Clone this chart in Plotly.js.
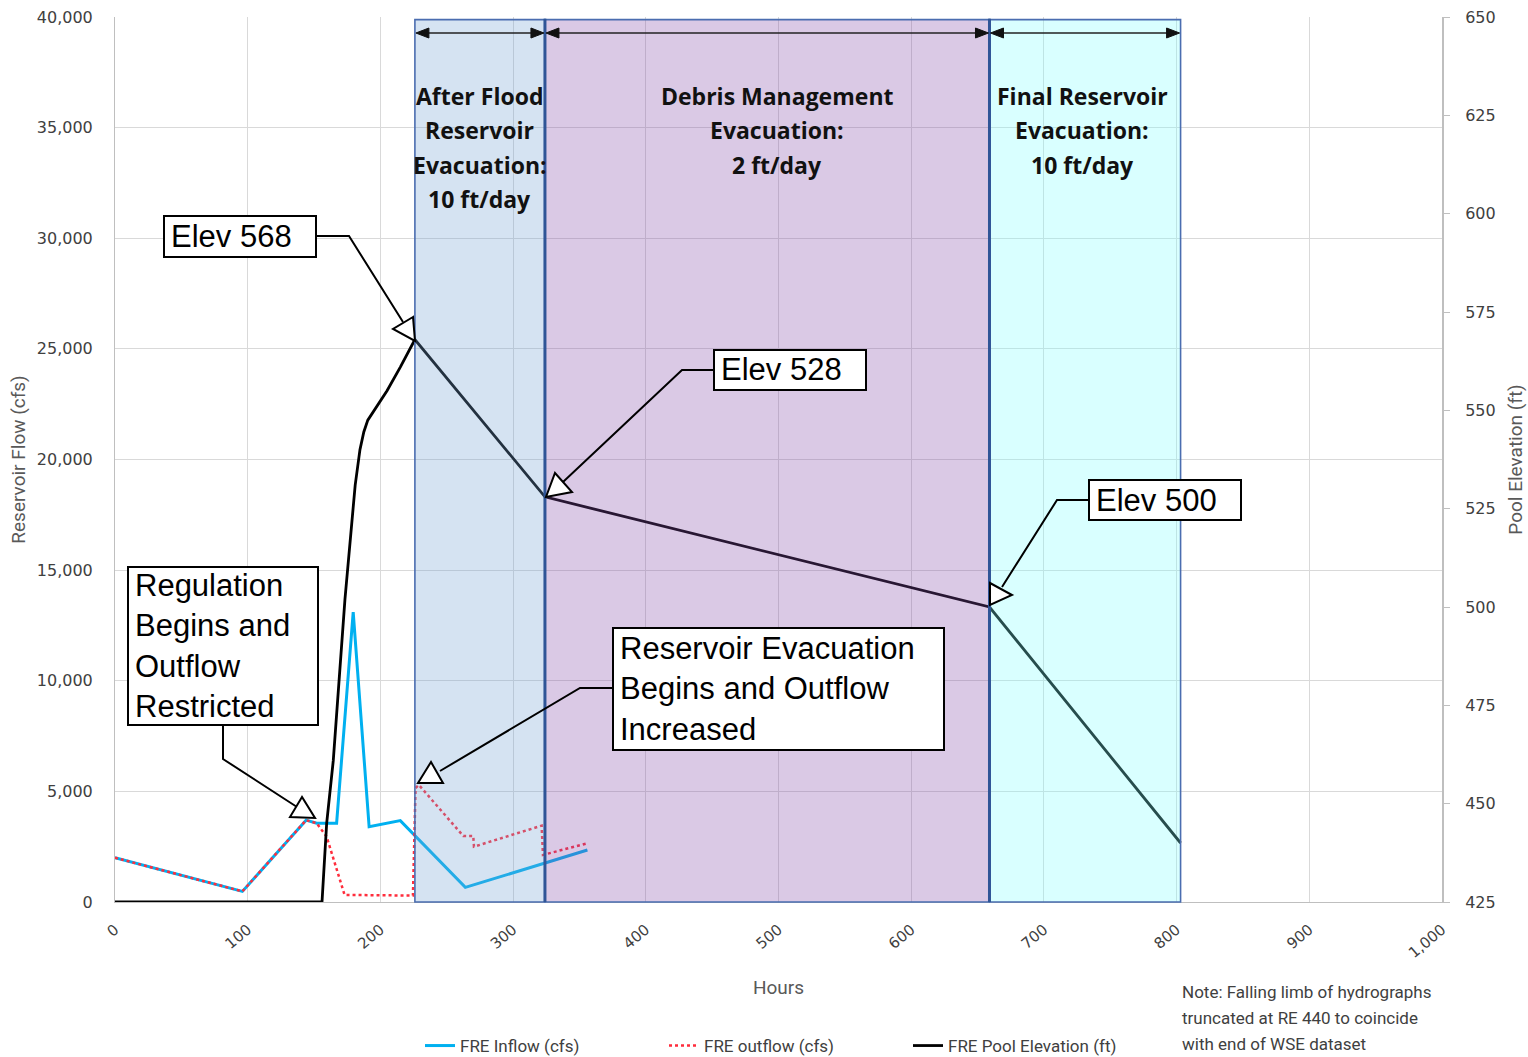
<!DOCTYPE html>
<html><head><meta charset="utf-8">
<script src="https://cdn.plot.ly/plotly-3.0.1.min.js"></script>
<style>html,body{margin:0;padding:0;background:#fff}#chart{width:1528px;height:1057px}</style>
</head><body><div id="chart"></div>
<script>
// ---------- DATA ----------
const inflowHours = [0, 96, 144, 152, 167, 179.5, 191.5, 215, 264, 356];
const inflowCfs   = [2000, 480, 3700, 3560, 3560, 13100, 3400, 3680, 660, 2350];

const outflowHours = [0, 96, 144, 152, 159.5, 173, 224.5, 226.5, 229, 262.5, 270, 270.5, 321.5, 322.5, 356];
const outflowCfs   = [2000, 480, 3700, 3560, 2950, 320, 290, 5150, 5290, 2980, 2980, 2500, 3450, 2130, 2650];

const poolHours = [0, 156, 159.5, 164.5, 173.3, 177.5, 181, 184.6, 187.5, 190.5, 197, 205, 215, 226, 324, 659, 803];
const poolElev  = [425, 425, 445, 461, 502, 517, 531, 540, 544.5, 547.5, 551, 555, 561, 568, 528, 500, 440];

const phaseStart = [226, 324, 659];
const phaseEnd   = [324, 659, 803];
const phaseLabels = [
  ["After Flood", "Reservoir", "Evacuation:", "10 ft/day"],
  ["Debris Management", "Evacuation:", "2 ft/day"],
  ["Final Reservoir", "Evacuation:", "10 ft/day"]
];

const seriesNames = ["FRE Inflow (cfs)", "FRE outflow (cfs)", "FRE Pool Elevation (ft)"];
const noteLines = ["Note: Falling limb of hydrographs", "truncated at RE 440 to coincide", "with end of WSE dataset"];

// ---------- STYLE / LAYOUT HELPERS ----------
const phaseFill = ["rgba(115,162,212,0.30)", "rgba(132,75,168,0.30)", "rgba(128,255,255,0.30)"];
const phaseXShift = [0, 10, -3];
const L = 115, T = 17, W = 1327, H = 885;
const PX = x => (x - L) / W;
const PY = y => (T + H - y) / H;
const HX = h => L + h * W / 1000;
function pathPx(pts, close) {
  return pts.map((p, i) => (i ? 'L' : 'M') + PX(p[0]).toFixed(5) + ',' + PY(p[1]).toFixed(5)).join(' ') + (close ? ' Z' : '');
}

const callouts = [
  {text: "Elev 568", box: [164, 216, 316, 257], leader: [[316, 236], [349, 236], [403, 322]], tri: [[413, 317], [393, 329], [415, 341]]},
  {text: "Elev 528", box: [714, 350, 866, 390], leader: [[714, 370], [682, 370], [563, 482]], tri: [[555, 473], [572, 492], [546, 497]]},
  {text: "Elev 500", box: [1089, 480, 1241, 520], leader: [[1089, 500], [1057, 500], [1002, 587]], tri: [[990, 583], [1012, 595], [990, 605]]},
  {text: "Regulation<br>Begins and<br>Outflow<br>Restricted", box: [128, 567, 318, 725], leader: [[223, 725], [223, 759], [297, 807]], tri: [[302, 797], [290, 817], [315, 818]]},
  {text: "Reservoir Evacuation<br>Begins and Outflow<br>Increased", box: [613, 628, 944, 750], leader: [[613, 688], [580, 688], [440, 771]], tri: [[431, 762], [418, 783], [443, 783]]}
];

// ---------- TRACES ----------
const traces = [
  {x: inflowHours, y: inflowCfs, name: seriesNames[0], type: 'scatter', mode: 'lines',
   line: {color: '#00B0F0', width: 3}},
  {x: outflowHours, y: outflowCfs, name: seriesNames[1], type: 'scatter', mode: 'lines',
   line: {color: '#FF2D3C', width: 2.5, dash: 'dot'}},
  {x: poolHours, y: poolElev, name: seriesNames[2], type: 'scatter', mode: 'lines', yaxis: 'y2',
   line: {color: '#000000', width: 2.8}}
];

// ---------- SHAPES ----------
const shapes = [];
phaseStart.forEach((s, i) => {
  shapes.push({type: 'rect', xref: 'x', yref: 'paper', x0: s, x1: phaseEnd[i], y0: 0, y1: 0.997,
    fillcolor: phaseFill[i], line: {color: '#4A6DB0', width: 1.6}, layer: 'above'});
});
// thicker boundaries between adjacent phases
phaseStart.slice(1).forEach(s => {
  shapes.push({type: 'line', xref: 'x', yref: 'paper', x0: s, x1: s, y0: 0, y1: 0.998,
    line: {color: '#2F5597', width: 3}, layer: 'above'});
});
// double-headed arrows above each phase
const arrowY = 33;
phaseStart.forEach((s, i) => {
  const a = HX(s) + 1, b = HX(phaseEnd[i]) - 1;
  shapes.push({type: 'path', xref: 'paper', yref: 'paper', path: pathPx([[a + 10, arrowY], [b - 10, arrowY]]),
    line: {color: '#222', width: 1.6}});
  shapes.push({type: 'path', xref: 'paper', yref: 'paper', path: pathPx([[a, arrowY], [a + 13, arrowY - 5], [a + 13, arrowY + 5]], true),
    fillcolor: '#111', line: {color: '#111', width: 1}});
  shapes.push({type: 'path', xref: 'paper', yref: 'paper', path: pathPx([[b, arrowY], [b - 13, arrowY - 5], [b - 13, arrowY + 5]], true),
    fillcolor: '#111', line: {color: '#111', width: 1}});
});
// callouts
callouts.forEach(c => {
  shapes.push({type: 'path', xref: 'paper', yref: 'paper', path: pathPx(c.leader), line: {color: '#000', width: 2}});
  shapes.push({type: 'path', xref: 'paper', yref: 'paper', path: pathPx(c.tri, true), fillcolor: '#FFFFFF', line: {color: '#000', width: 2}});
  shapes.push({type: 'rect', xref: 'paper', yref: 'paper', x0: PX(c.box[0]), x1: PX(c.box[2]), y0: PY(c.box[3]), y1: PY(c.box[1]),
    fillcolor: '#FFFFFF', line: {color: '#000', width: 2}});
});

// ---------- ANNOTATIONS ----------
const annotations = [];
phaseLabels.forEach((lines, i) => {
  const cx = (phaseStart[i] + phaseEnd[i]) / 2;
  lines.forEach((t, j) => {
    annotations.push({x: cx, xref: 'x', y: PY(96 + j * 34.3), yref: 'paper', text: '<b>' + t + '</b>', showarrow: false,
      xshift: phaseXShift[i], xanchor: 'center', yanchor: 'middle',
      font: {family: 'Open Sans, Lato, sans-serif', size: 23, color: '#111111'}});
  });
});
callouts.forEach(c => {
  annotations.push({x: PX(c.box[0] + 5), y: PY((c.box[1] + c.box[3]) / 2), xref: 'paper', yref: 'paper', text: c.text,
    showarrow: false, xanchor: 'left', yanchor: 'middle', align: 'left',
    font: {family: 'Liberation Sans, Arial, sans-serif', size: 31, color: '#000'}});
});
noteLines.forEach((t, j) => {
  annotations.push({x: PX(1180), y: PY(992 + j * 26), xref: 'paper', yref: 'paper', text: t, showarrow: false,
    xanchor: 'left', yanchor: 'middle', font: {family: 'Roboto, sans-serif', size: 17, color: '#404040'}});
});

const tickFont = {family: 'DejaVu Sans, sans-serif', size: 16, color: '#404040'};
const xTickFont = {family: 'DejaVu Sans, sans-serif', size: 15, color: '#404040'};
const titleFont = {family: 'Roboto, sans-serif', size: 19, color: '#595959'};

const layout = {
  width: 1528, height: 1057, autosize: false,
  margin: {l: L, r: 1528 - L - W, t: T, b: 1057 - T - H, autoexpand: false},
  paper_bgcolor: '#fff', plot_bgcolor: '#fff',
  showlegend: true,
  xaxis: {range: [0, 1000], dtick: 100, tick0: 0, tickformat: ',d', tickangle: -40, tickfont: xTickFont,
    showgrid: true, gridcolor: '#D9D9D9', gridwidth: 1, zeroline: false, showline: true, linecolor: '#BFBFBF', linewidth: 1,
    ticks: '', ticklabelstandoff: 12, automargin: false,
    title: {text: 'Hours', font: titleFont, standoff: 19}},
  yaxis: {range: [0, 40000], dtick: 5000, tick0: 0, tickformat: ',d', tickfont: tickFont,
    showgrid: true, gridcolor: '#D9D9D9', gridwidth: 1, zeroline: false, showline: true, linecolor: '#BFBFBF', linewidth: 1,
    ticks: '', ticklabelstandoff: 18, automargin: false,
    title: {text: 'Reservoir Flow (cfs)', font: titleFont, standoff: 6}},
  yaxis2: {range: [425, 650], dtick: 25, tick0: 425, overlaying: 'y', side: 'right', tickfont: tickFont,
    showgrid: false, zeroline: false, showline: true, linecolor: '#BFBFBF', linewidth: 2,
    ticks: 'outside', ticklen: 6, tickcolor: '#BFBFBF', ticklabelstandoff: 12, automargin: false,
    title: {text: 'Pool Elevation (ft)', font: titleFont, standoff: 14}},
  legend: {orientation: 'h', x: PX(420), xanchor: 'left', y: PY(1046), yanchor: 'middle',
    entrywidth: 199, entrywidthmode: 'pixels', font: {family: 'Roboto, sans-serif', size: 17, color: '#404040'},
    bgcolor: 'rgba(0,0,0,0)'},
  shapes: shapes,
  annotations: annotations
};

Plotly.newPlot('chart', traces, layout, {displayModeBar: false, staticPlot: true});
</script>
</body></html>
